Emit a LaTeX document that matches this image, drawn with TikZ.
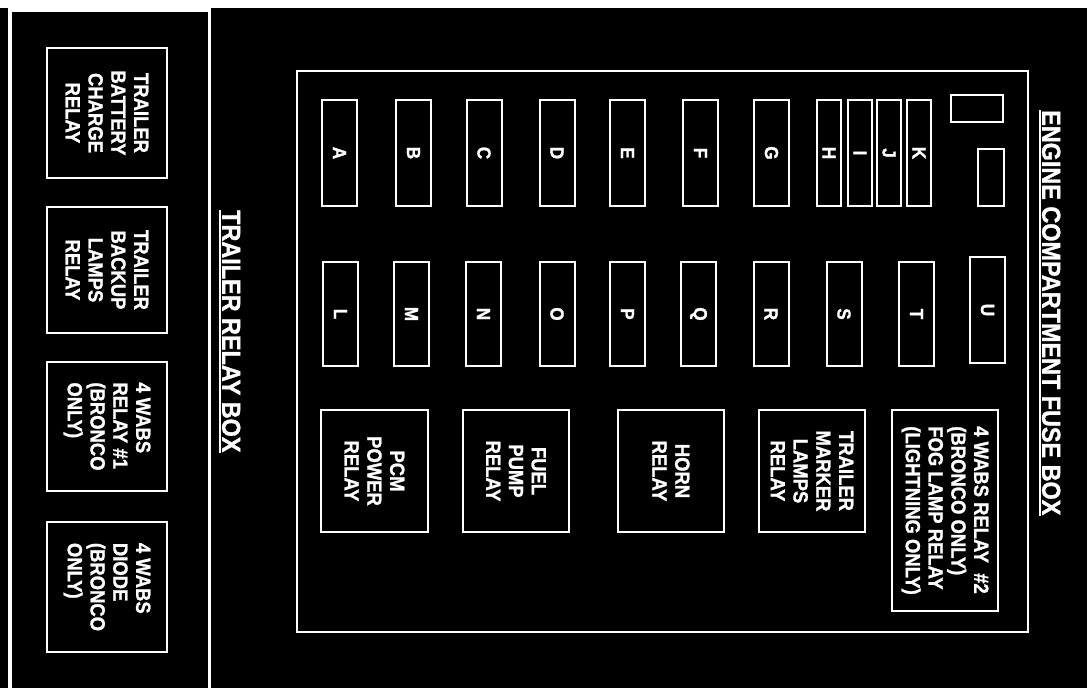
\documentclass[tikz,border=0pt]{standalone}
\usepackage{fontspec}
\setmainfont{Liberation Sans}[FakeStretch=0.9, BoldFeatures={FakeBold=1.2}]
\begin{document}
\begin{tikzpicture}[x=1pt,y=-1pt,
  box/.style={draw=white, line width=2pt, rotate=-90, inner sep=0pt, text=white,
    font=\fontsize{20.5}{22.8}\selectfont\bfseries, align=center},
  fuse/.style={box, font=\fontsize{19}{20}\selectfont\bfseries},
  plain/.style={draw=white, line width=2pt, inner sep=0pt},
  title/.style={rotate=-90, anchor=south west, inner sep=0pt, text=white,
    font=\fontsize{26}{28}\selectfont\bfseries, text depth=0pt},
  uline/.style={draw=white, line width=2pt}]
\useasboundingbox (0,0) rectangle (1087,688);
% background
\fill[white] (0,0) rectangle (1087,688);
\fill[black] (0,8) rectangle (8,688);
\fill[black] (12,12) rectangle (208,688);
\fill[black] (211,8) rectangle (1087,688);

% trailer relay box
\node[box, minimum width=130pt, minimum height=120pt] (r1) at (107,113)
  {TRAILER\\BATTERY\\CHARGE\\RELAY};
\node[box, minimum width=126pt, minimum height=120pt] (r2) at (107,270)
  {TRAILER\\BACKUP\\LAMPS\\RELAY};
\node[box, minimum width=129pt, minimum height=120pt, align=left] (r3) at (107,426.5)
  {4 WABS\\RELAY \#1\\(BRONCO\\ONLY)};
\node[box, minimum width=130pt, minimum height=120pt, align=left] (r4) at (107,587)
  {4 WABS\\DIODE\\(BRONCO\\ONLY)};
\node[title] (t2) at (222,210) {TRAILER RELAY BOX};
\draw[uline] ([xshift=-2pt]t2.south west) -- ([xshift=-2pt]t2.south east);

% engine compartment fuse box
\node[plain, minimum width=731pt, minimum height=561pt] (fb) at (662.5,351.5) {};
\node[title] (t1) at (1042,110) {ENGINE COMPARTMENT FUSE BOX};
\draw[uline] ([xshift=-2pt]t1.south west) -- ([xshift=-2pt]t1.south east);

% top row fuses
\foreach \n/\x in {A/339.5,B/413.5,C/484,D/557,E/627.5,F/700.5,G/771.5}
  \node[fuse, minimum width=106pt, minimum height=35pt] (\n) at (\x,153) {\n};
\foreach \n/\x in {H/829,I/860,J/889,K/919}
  \node[fuse, minimum width=106pt, minimum height=24pt] (\n) at (\x,153) {\n};
\node[plain, minimum width=52pt, minimum height=27pt] (sq1) at (977,108.5) {};
\node[plain, minimum width=26pt, minimum height=57pt] (sq2) at (991,177.5) {};

% bottom row fuses
\foreach \n/\x in {L/340.5,M/411.5,N/483.5,O/557,P/627.5,Q/698.5,R/771,S/844,T/916.5}
  \node[fuse, minimum width=104pt, minimum height=35pt] (\n) at (\x,314) {\n};
\node[fuse, minimum width=106pt, minimum height=35pt] (U) at (987.5,310) {U};

% relays
\node[box, minimum width=122pt, minimum height=107pt] (pcm) at (374.5,471)
  {PCM\\POWER\\RELAY};
\node[box, minimum width=122pt, minimum height=106pt] (fuel) at (516,471)
  {FUEL\\PUMP\\RELAY};
\node[box, minimum width=122pt, minimum height=106pt] (horn) at (671,471)
  {HORN\\RELAY};
\node[box, minimum width=122pt, minimum height=106pt] (tmk) at (812,471)
  {TRAILER\\MARKER\\LAMPS\\RELAY};
\node[box, minimum width=201pt, minimum height=106pt, align=left] (wabs2) at (945,510.5)
  {4 WABS RELAY \ \#2\\(BRONCO ONLY)\\FOG LAMP RELAY\\(LIGHTNING ONLY)};
\end{tikzpicture}
\end{document}
